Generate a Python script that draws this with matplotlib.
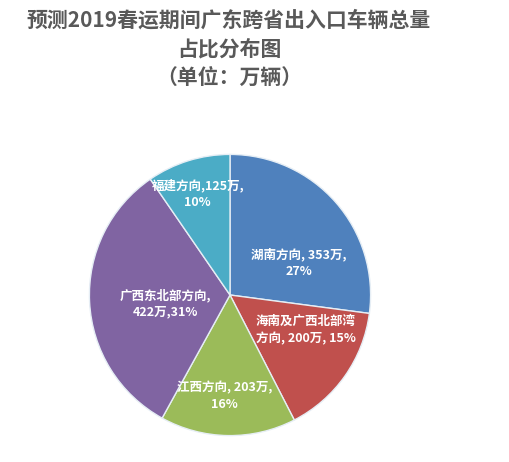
import matplotlib
matplotlib.use("Agg")
import matplotlib.pyplot as plt

plt.rcParams['font.family'] = ['Noto Sans CJK SC', 'DejaVu Sans']

# data
directions = ['湖南方向', '海南及广西北部湾方向', '江西方向', '广西东北部方向', '福建方向']
volumes = [353, 200, 203, 422, 125]
label_texts = [
    '湖南方向, 353万,\n27%',
    '海南及广西北部湾\n方向, 200万, 15%',
    '江西方向, 203万,\n16%',
    '广西东北部方向,\n422万,31%',
    '福建方向,125万,\n10%',
]
colors = ['#4F81BD', '#C0504D', '#9BBB59', '#8064A2', '#4BACC6']

# label centres (pie radius = 1)
label_pos = [(0.49, 0.23), (0.54, -0.25), (-0.04, -0.72), (-0.46, -0.06), (-0.23, 0.72)]

W, H = 510, 462
fig = plt.figure(figsize=(W / 100, H / 100), dpi=100)

cx, cy, r = 230, 295, 142
ax = fig.add_axes([(cx - r) / W, (H - cy - r) / H, 2 * r / W, 2 * r / H])
ax.pie(volumes, colors=colors, startangle=90, counterclock=False,
       wedgeprops=dict(edgecolor='#e6eef5', linewidth=1.0))
ax.set_xlim(-1.01, 1.01)
ax.set_ylim(-1.01, 1.01)
ax.set_aspect('equal')
ax.axis('off')

for txt, (x, y) in zip(label_texts, label_pos):
    ax.text(x, y, txt, ha='center', va='center', color='white',
            fontsize=9, fontweight='bold', linespacing=1.35)

title_lines = ['预测2019春运期间广东跨省出入口车辆总量', '占比分布图', '（单位：万辆）']
for i, line in enumerate(title_lines):
    fig.text(229 / W, 1 - (20 + 28.5 * i) / H, line, ha='center', va='center',
             fontsize=15, fontweight='bold', color='#595959')

fig.savefig('out.png', dpi=100)
